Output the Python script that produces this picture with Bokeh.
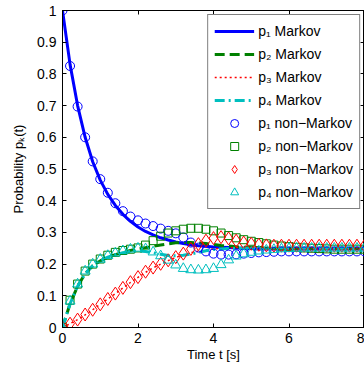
from bokeh.plotting import figure
from bokeh.models import (LinearAxis, Legend, LegendItem, FixedTicker, Range1d,
                          PrintfTickFormatter, CustomJSTickFormatter)
from bokeh.embed import file_html
from bokeh.resources import INLINE

# ---- data ----
t = [0.0, 0.2, 0.4, 0.6, 0.8, 1.0, 1.2, 1.4, 1.6, 1.8, 2.0, 2.2, 2.4, 2.6, 2.8,
     3.0, 3.2, 3.4, 3.6, 3.8, 4.0, 4.2, 4.4, 4.6, 4.8, 5.0, 5.2, 5.4, 5.6, 5.8,
     6.0, 6.2, 6.4, 6.6, 6.8, 7.0, 7.2, 7.4, 7.6, 7.8, 8.0]

p1_markov = [1.000, 0.830, 0.700, 0.600, 0.523, 0.465, 0.420, 0.385, 0.357, 0.335,
             0.317, 0.303, 0.292, 0.283, 0.276, 0.270, 0.265, 0.261, 0.258, 0.256,
             0.254, 0.253, 0.252, 0.251, 0.250, 0.249, 0.248, 0.248, 0.248, 0.248,
             0.248, 0.248, 0.248, 0.248, 0.248, 0.248, 0.248, 0.248, 0.248, 0.248, 0.248]
p2_markov = [0.000, 0.075, 0.130, 0.170, 0.195, 0.210, 0.222, 0.230, 0.237, 0.243,
             0.248, 0.252, 0.256, 0.260, 0.264, 0.267, 0.268, 0.268, 0.267, 0.265,
             0.262, 0.259, 0.257, 0.255, 0.253, 0.252, 0.251, 0.250, 0.250, 0.250,
             0.250, 0.250, 0.250, 0.250, 0.250, 0.250, 0.250, 0.250, 0.250, 0.250, 0.250]
p3_markov = [0.000, 0.012, 0.025, 0.040, 0.056, 0.073, 0.090, 0.107, 0.125, 0.142,
             0.158, 0.174, 0.188, 0.200, 0.211, 0.221, 0.229, 0.236, 0.241, 0.245,
             0.248, 0.250, 0.251, 0.252, 0.252, 0.252, 0.252, 0.252, 0.252, 0.252,
             0.252, 0.252, 0.252, 0.252, 0.252, 0.252, 0.252, 0.252, 0.252, 0.252, 0.252]
p4_markov = [0.000, 0.075, 0.130, 0.170, 0.195, 0.210, 0.222, 0.230, 0.236, 0.240,
             0.242, 0.240, 0.236, 0.231, 0.227, 0.226, 0.228, 0.232, 0.237, 0.242,
             0.246, 0.248, 0.249, 0.250, 0.250, 0.250, 0.250, 0.250, 0.250, 0.250,
             0.250, 0.250, 0.250, 0.250, 0.250, 0.250, 0.250, 0.250, 0.250, 0.250, 0.250]

p1_non = [1.000, 0.825, 0.697, 0.600, 0.524, 0.468, 0.425, 0.392, 0.367, 0.350,
          0.338, 0.328, 0.320, 0.312, 0.305, 0.297, 0.284, 0.268, 0.252, 0.240,
          0.233, 0.230, 0.230, 0.231, 0.233, 0.235, 0.237, 0.238, 0.239, 0.240,
          0.240, 0.240, 0.240, 0.240, 0.240, 0.240, 0.240, 0.240, 0.240, 0.240, 0.240]
p2_non = [0.000, 0.086, 0.137, 0.178, 0.200, 0.216, 0.228, 0.237, 0.243, 0.247,
          0.251, 0.260, 0.274, 0.288, 0.298, 0.305, 0.310, 0.313, 0.313, 0.310,
          0.305, 0.298, 0.290, 0.283, 0.277, 0.272, 0.268, 0.264, 0.260, 0.257,
          0.255, 0.253, 0.251, 0.250, 0.249, 0.248, 0.247, 0.247, 0.247, 0.247, 0.247]
p3_non = [0.000, 0.012, 0.025, 0.041, 0.056, 0.073, 0.090, 0.107, 0.125, 0.143,
          0.159, 0.176, 0.189, 0.201, 0.212, 0.222, 0.233, 0.248, 0.263, 0.274,
          0.282, 0.285, 0.281, 0.274, 0.268, 0.264, 0.261, 0.259, 0.258, 0.258,
          0.258, 0.258, 0.258, 0.258, 0.258, 0.258, 0.258, 0.258, 0.258, 0.258, 0.258]
p4_non = [0.000, 0.083, 0.137, 0.178, 0.200, 0.215, 0.227, 0.235, 0.242, 0.247,
          0.250, 0.248, 0.238, 0.226, 0.212, 0.197, 0.186, 0.182, 0.181, 0.182,
          0.186, 0.198, 0.213, 0.225, 0.232, 0.237, 0.241, 0.244, 0.246, 0.248,
          0.249, 0.250, 0.250, 0.250, 0.250, 0.250, 0.250, 0.250, 0.250, 0.250, 0.250]

x_ticks = [0, 2, 4, 6, 8]
y_ticks = [0, 0.1, 0.2, 0.3, 0.4, 0.5, 0.6, 0.7, 0.8, 0.9, 1.0]

labels_markov = ["p\u2081 Markov", "p\u2082 Markov", "p\u2083 Markov", "p\u2084 Markov"]
labels_non = ["p\u2081 non\u2212Markov", "p\u2082 non\u2212Markov",
              "p\u2083 non\u2212Markov", "p\u2084 non\u2212Markov"]

BLUE, GREEN, RED, CYAN = "#0000FF", "#008000", "#FF0000", "#00BFBF"
FONT = "Liberation Sans"

p = figure(width=364, height=365, output_backend="svg", toolbar_location=None,
           x_range=Range1d(0, 8), y_range=Range1d(0, 1),
           min_border_left=62, min_border_right=0, min_border_top=10,
           min_border_bottom=38)
p.outline_line_color = "black"
p.outline_line_width = 1
p.grid.visible = False
p.background_fill_color = "white"


def style_axis(ax, ticks, show_labels):
    ax.ticker = FixedTicker(ticks=ticks)
    ax.major_tick_in = 4
    ax.major_tick_out = 0
    ax.minor_tick_in = 0
    ax.minor_tick_out = 0
    ax.axis_line_color = "black"
    ax.major_tick_line_color = "black"
    ax.major_label_text_font = FONT
    ax.major_label_text_color = "black"
    if show_labels:
        ax.major_label_text_font_size = "14px"
    else:
        ax.formatter = CustomJSTickFormatter(code="return ''")
        ax.major_label_text_font_size = "1px"
        ax.major_label_standoff = 0


style_axis(p.xaxis[0], x_ticks, True)
style_axis(p.yaxis[0], y_ticks, True)
p.yaxis[0].formatter = PrintfTickFormatter(format="%g")
p.xaxis[0].major_label_standoff = 5
p.yaxis[0].major_label_standoff = 6

p.xaxis[0].axis_label = "Time t [s]"
p.yaxis[0].axis_label = "Probability p\u2096(t)"
for ax in (p.xaxis[0], p.yaxis[0]):
    ax.axis_label_text_font = FONT
    ax.axis_label_text_font_size = "13px"
    ax.axis_label_text_font_style = "normal"
    ax.axis_label_text_color = "black"
p.xaxis[0].axis_label_standoff = 1
p.yaxis[0].axis_label_standoff = 8

top_ax = LinearAxis()
style_axis(top_ax, x_ticks, False)
p.add_layout(top_ax, "above")
right_ax = LinearAxis()
style_axis(right_ax, y_ticks, False)
p.add_layout(right_ax, "right")

r1 = p.line(t, p1_markov, line_color=BLUE, line_width=3)
r2 = p.line(t, p2_markov, line_color=GREEN, line_width=3, line_dash="10 5")
r3 = p.line(t, p3_markov, line_color=RED, line_width=1.5, line_dash="2 3")
r4 = p.line(t, p4_markov, line_color=CYAN, line_width=3, line_dash="10 4 2 4")

m1 = p.scatter(t, p1_non, marker="circle", size=9, fill_color=None,
               line_color=BLUE, line_width=1)
m2 = p.scatter(t, p2_non, marker="square", size=8, fill_color=None,
               line_color=GREEN, line_width=1)
m3 = p.scatter(t, p3_non, marker="diamond", size=13, fill_color=None,
               line_color=RED, line_width=1)
m4 = p.scatter(t, p4_non, marker="triangle", size=10, fill_color=None,
               line_color=CYAN, line_width=1)

items = [LegendItem(label=labels_markov[0], renderers=[r1]),
         LegendItem(label=labels_markov[1], renderers=[r2]),
         LegendItem(label=labels_markov[2], renderers=[r3]),
         LegendItem(label=labels_markov[3], renderers=[r4]),
         LegendItem(label=labels_non[0], renderers=[m1]),
         LegendItem(label=labels_non[1], renderers=[m2]),
         LegendItem(label=labels_non[2], renderers=[m3]),
         LegendItem(label=labels_non[3], renderers=[m4])]
legend = Legend(items=items, location="top_right")
legend.margin = 4
legend.padding = 6
legend.spacing = 3
legend.glyph_width = 40
legend.glyph_height = 20
legend.label_height = 20
legend.label_standoff = 4
legend.label_text_font = FONT
legend.label_text_font_size = "14px"
legend.label_text_color = "black"
legend.border_line_color = "black"
legend.border_line_width = 1
legend.background_fill_color = "white"
legend.background_fill_alpha = 1
p.add_layout(legend)

open("out.html", "w").write(file_html(p, INLINE))
